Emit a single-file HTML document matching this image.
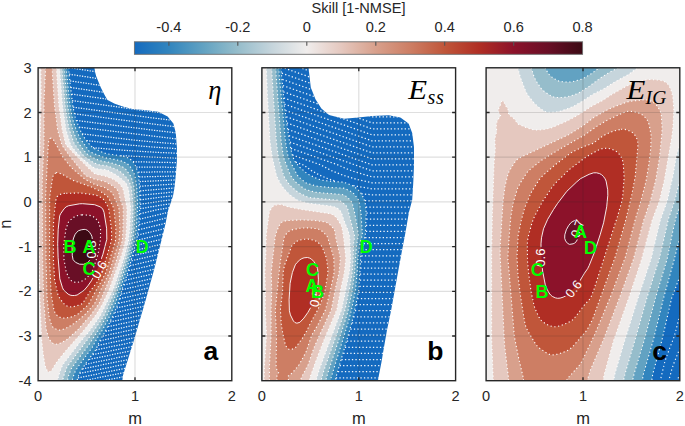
<!DOCTYPE html><html><head><meta charset="utf-8"><style>html,body{margin:0;padding:0;background:#fff;width:685px;height:426px;overflow:hidden}svg{display:block}.t{font-family:"Liberation Sans",sans-serif;font-size:14.6px;fill:#262626}.l{font-family:"Liberation Sans",sans-serif;font-size:16.5px;fill:#262626}.pl{font-family:"Liberation Sans",sans-serif;font-size:26.5px;font-weight:bold;fill:#000}.ti{font-family:"Liberation Serif",serif;font-style:italic;fill:#000}.g{font-family:"Liberation Sans",sans-serif;font-size:18px;font-weight:bold;fill:#00ff00}.cl{font-family:"Liberation Sans",sans-serif;font-size:13px;fill:#fff}</style></head><body>
<svg width="685" height="426" viewBox="0 0 685 426">
<linearGradient id="cbg" x1="0" x2="1" y1="0" y2="0"><stop offset="0.0000" stop-color="#146abf"/><stop offset="0.0385" stop-color="#2378be"/><stop offset="0.0769" stop-color="#3285be"/><stop offset="0.1154" stop-color="#4a94c0"/><stop offset="0.1538" stop-color="#62a2c2"/><stop offset="0.1923" stop-color="#7cb0c6"/><stop offset="0.2308" stop-color="#96bdcb"/><stop offset="0.2692" stop-color="#aec9d4"/><stop offset="0.3077" stop-color="#c6d5dc"/><stop offset="0.3462" stop-color="#dbe1e4"/><stop offset="0.3846" stop-color="#f0edec"/><stop offset="0.4231" stop-color="#eadad5"/><stop offset="0.4615" stop-color="#e5c8bf"/><stop offset="0.5000" stop-color="#deb4a5"/><stop offset="0.5385" stop-color="#d8a08c"/><stop offset="0.5769" stop-color="#d28f78"/><stop offset="0.6154" stop-color="#cd7e64"/><stop offset="0.6538" stop-color="#c66a4f"/><stop offset="0.6923" stop-color="#c0563a"/><stop offset="0.7308" stop-color="#b8422f"/><stop offset="0.7692" stop-color="#b02e24"/><stop offset="0.8077" stop-color="#9e2027"/><stop offset="0.8462" stop-color="#8c122a"/><stop offset="0.8846" stop-color="#7a1028"/><stop offset="0.9231" stop-color="#690f26"/><stop offset="0.9615" stop-color="#520c1d"/><stop offset="1.0000" stop-color="#3c0a14"/></linearGradient>
<rect x="134.4" y="41.8" width="448.2" height="12.5" fill="url(#cbg)" stroke="#6e6e6e" stroke-width="0.9"/>
<text x="168.9" y="32.3" class="t" text-anchor="middle">-0.4</text>
<text x="237.8" y="32.3" class="t" text-anchor="middle">-0.2</text>
<text x="306.8" y="32.3" class="t" text-anchor="middle">0</text>
<text x="375.8" y="32.3" class="t" text-anchor="middle">0.2</text>
<text x="444.7" y="32.3" class="t" text-anchor="middle">0.4</text>
<text x="513.7" y="32.3" class="t" text-anchor="middle">0.6</text>
<text x="582.6" y="32.3" class="t" text-anchor="middle">0.8</text>
<path d="M168.9 41.8v4M237.8 41.8v4M306.8 41.8v4M375.8 41.8v4M444.7 41.8v4M513.7 41.8v4" stroke="#555" stroke-width="1.1"/>
<text x="358.5" y="12.6" class="t" text-anchor="middle">Skill [1-NMSE]</text>
<clipPath id="clipa"><rect x="38.1" y="67.8" width="193.7" height="312.9"/></clipPath>
<clipPath id="maska"><path d="M94.3 55L94.3 67L95.1 72L96.2 76.3L100.8 87.6L104.6 95L107.5 100L114.8 103.8L123.6 106.7L132.4 108.9L144.1 109.9L158.2 111.7L167.6 116.4L173.4 123.5L175.8 132.9L176.9 147L176.9 161L175.8 175.1L174.6 186.9L173 196L170 205L168.2 210.1L165.4 224.2L162.5 236L154 270L145.7 300L134 340L123.1 375L121 390L25 390L25 55Z"/></clipPath>
<g clip-path="url(#clipa)"><g clip-path="url(#maska)">
<rect x="36.1" y="65.8" width="197.7" height="316.9" fill="#146abf"/>
<path d="M34.1 63.8L68.7 63.8L68.9 72.3L70.7 89.3L72.6 104.8L74.6 115L75.6 118.9L79.1 127.9L84.1 137.6L87.6 142.1L92.1 147.2L96.9 149.8L106.6 153.8L124.1 156.5L126.9 157.3L129.1 158.3L132.1 160.8L134.5 163.8L137.8 171.3L138.5 174.3L139.7 187.8L140.1 202.3L138.6 228.8L136.3 241.3L127.9 272.3L122.1 289.4L118.1 303.8L113.2 315.3L105.4 331.3L100 340.3L95.6 350.2L84.6 365.2L79.8 372.8L77.6 378.3L76.3 384.3L34.1 384.3Z" fill="#3285be"/>
<path d="M34.1 63.8L66.4 63.8L66.6 72.3L68.4 90.8L70 105.3L72.2 117.3L76.6 130.8L80.8 139.8L86.1 146.7L88.6 150.7L90.1 152L104.6 157.7L114.6 159.4L122.5 161.3L128.1 164.3L131.1 167.9L134.5 174.3L136.7 186.3L137.6 203.8L136.3 229.3L134.2 241.3L130.4 256.3L125.3 273.3L115.6 302.8L109.4 316.8L102.6 329.6L97.1 338.3L92 347.8L81.2 362.3L75.4 370.8L72.8 377.8L71.5 384.3L34.1 384.3Z" fill="#62a2c2"/>
<path d="M34.1 63.8L64.2 63.8L64.4 72.8L67.2 102.3L69.7 118.3L72.4 128.8L77.6 141.8L86.1 153.1L88.1 154.8L93.1 157.7L96.6 159.4L101.1 161L108.6 162.2L118.1 164.9L121.4 166.3L124.7 168.3L127.5 171.3L131.1 176.7L132.2 179.8L134.1 187.8L135.3 207.8L134.1 229.8L132.5 240.3L129.4 252.8L123 274.3L113.2 301.8L106.3 316.8L99.6 328.3L88.6 345.3L77.6 359.8L71.2 368.8L68.2 376.8L66.9 384.3L34.1 384.3Z" fill="#96bdcb"/>
<path d="M34.1 63.8L62 63.8L62.3 73.3L65.3 107.3L67.4 120.8L69 128.8L74.1 143.3L77.9 148.8L83.1 155L86.1 157.6L92.1 161.8L94.9 163.3L99.1 164.8L106.6 165.7L108.6 166.3L116.6 169.4L120.6 171.8L122.6 173.4L127.9 179.3L129.1 181.3L131 186.3L131.5 188.8L132.7 200.3L133.1 208.3L132.7 217.8L132.1 228.8L130.6 240.3L126.6 256.3L121.4 272.8L115.1 290.8L104.5 314.3L101.3 319.8L92.1 333.5L67.1 366.8L63.6 376.2L62.7 380.3L62.2 384.3L34.1 384.3Z" fill="#c6d5dc"/>
<path d="M34.1 63.8L59.7 63.8L59.9 72.8L62.5 105.8L66 129.8L70.4 144.3L72.6 147.8L76.6 152.8L82.1 158.3L92.1 166.6L94.6 168.1L96.6 168.8L105.6 169.7L108.5 170.8L115.6 174.5L120.6 178.2L125.3 182.3L126.6 184.3L128.5 188.8L130.7 207.3L129.8 228.3L128.4 240.8L124.6 256.1L113.1 289.7L100.1 316.1L89.1 331.6L80.3 341.8L62.7 364.8L59.9 371.8L58 378.3L57.1 384.3L34.1 384.3Z" fill="#f0edec"/>
<path d="M40.8 63.8L56.5 63.8L56.7 72.8L58.9 105.3L62.2 129.8L65.3 142.8L66.1 145L74.3 153.8L89.6 169.1L94.1 173.2L96.6 174.4L105.1 176.1L112.6 178.9L115 180.3L119.4 183.8L122.4 187.8L123.3 189.8L127 208.8L126.5 229.3L125.6 239.3L125 242.3L121.6 255.3L115.2 273.3L109.1 289.8L102.9 303.3L96.7 313.8L93.6 318.1L84.6 329.5L66.7 349.8L58.9 359.3L55.3 364.3L51.6 370.4L50.6 371.3L49.1 372L48.1 371.7L47.1 370.5L45.2 366.3L43.3 354.8L41.7 340.8L39.9 299.3L39.1 256.8L39.1 183.8L41.1 94.3Z" fill="#e5c8bf"/>
<path d="M45.4 63.8L52.1 63.8L52.4 73.3L54.5 105.8L57.7 130.3L62 145.3L70.6 157.3L85.3 175.3L87.1 176.3L94.1 179L105.1 181.6L113.1 186L116.1 188.6L117.9 190.8L118.6 192.2L120.4 199.8L122.9 206.8L123.3 208.8L123.1 228.8L122.3 240.8L118.2 254.8L112.3 272.8L99.2 303.3L91 314.8L77.6 330.1L66.7 339.8L59.6 343.5L57.1 344.2L53.1 343.6L49.6 340L48.6 337.9L46.3 329.8L45.6 324.6L43.6 299.8L42.6 258.3L42.2 184.3L44 140.8L44 100.3L45.4 72.3Z" fill="#d8a08c"/>
<path d="M50.2 138.3L51.6 138.1L53.6 139.8L54.5 142.3L56.1 144.3L63 157.3L71.1 167.3L73.1 169.2L85.1 179.3L95.1 184.6L104.6 187.5L111.6 192.2L113.5 195.3L118.2 206.3L118.9 208.3L119.1 211.2L119.9 228.8L119 240.8L109.3 272.8L100.5 290.3L95 302.8L92.5 306.3L84.8 314.8L74.6 323L71.4 325.3L65.6 328.5L62.6 329.5L59.1 330.1L57.1 329.7L54.1 328.1L52.6 326.8L51.5 324.8L49.2 317.3L47.1 298.8L46 258.8L45.6 195.8L48.1 147.1L48.8 140.3Z" fill="#cd7e64"/>
<path d="M56 172.8L57.6 172.5L59.1 172.9L64 175.3L72.6 180.2L90.9 186.8L100.1 191.1L107.3 196.3L108.8 198.3L113.8 208.3L115.9 228.3L115.5 240.3L106 272.3L101.1 281.8L95.8 290.8L89.7 302.3L88.4 304.3L86 306.8L77.6 314.4L72.1 316.8L65.1 318.2L61.6 317.9L58.6 316.8L56.6 315L55 312.8L53.9 309.8L51.1 293.8L49.5 258.3L49.7 196.8L52.7 176.8L53.6 174.9Z" fill="#c0563a"/>
<path d="M66.2 193.3L80.6 193L94.1 194.8L97.6 195.7L103.1 198.9L105.1 201.4L108.7 208.3L111.5 229.3L111.6 238.8L111.4 240.8L101.6 273.8L96.7 282.8L90.8 290.3L83.1 302.8L82 303.8L80.1 304.7L72.1 307.1L68.1 306.4L65.1 305.2L61.1 300.2L58.1 295.5L54.6 279.8L53.4 259.8L53.4 224.8L54.3 213.3L56 199.8L57 196.8L59.1 195L62.6 193.5Z" fill="#b02e24"/>
<path d="M79.6 203.8L82.6 203.7L94.6 204.7L100.1 206.8L102.6 208.7L104 212.3L106.6 228.2L106.8 239.3L102.9 254.3L100.8 260.3L96.8 270.8L91.4 280.8L87.9 285.8L84.1 290.3L77.1 295L74.6 295.5L72.1 295.5L70.1 295.1L68.1 294.1L63.6 290L62.5 287.8L59.8 278.8L58.1 257.3L57.7 243.8L58.2 229.3L59.7 215.8L60.6 213.8L64.1 208.8L66.1 206.9L68.4 205.8Z" fill="#8c122a"/>
<path d="M81.9 214.8L88.6 215.2L91.6 215.8L94.1 217.2L97.5 220.3L98.6 222.4L100.6 228.8L100.4 239.8L97.9 254.8L92.6 270.3L89.1 275.6L84.4 279.8L80.1 281.9L76.1 282.6L73.1 281.8L70.6 280.2L68.6 277.3L66.2 271.8L63.9 258.8L63.7 244.8L65.9 229.3L68.3 222.3L70.1 220.3L74.6 216.6L77.1 215.7Z" fill="#690f26"/>
<path d="M81.3 229.8L84.1 229.4L85.6 229.5L87.6 230.4L89.6 232.4L91.2 234.8L92 236.8L93 244.8L92.1 252.6L89.6 260.3L88.6 261.7L87.1 263.1L83.6 264.3L79.6 264.2L75.6 262.4L73.1 259.7L72.3 255.8L72.1 247.3L72.7 241.3L73.6 238L75.1 234.4L76.6 232.4L78.6 230.7Z" fill="#3c0a14"/>
<path d="M68.7 63.8L69 73.3L72.7 105.3L75.4 118.3L81.1 132.2L85.3 139.3L89.1 143.9L93.1 148L101.3 151.8L106.6 153.8L118.6 155.5L126.9 157.3L130.1 159L133.5 162.3L135.5 165.8L138.3 173.3L139.6 187.3L140.1 201.3L138.7 228.3L136.7 239.8L127.9 272.3L122.1 289.4L117.9 304.3L112.3 317.3L105.1 331.8L100 340.3L95.8 349.8L84.6 365.2L79.8 372.8L77.6 378.3L76.3 384.3M66.4 63.8L66.6 72.3L68.4 90.8L70 105.3L72.1 116.9L72.8 119.8L76.1 129.5L80.5 139.3L86.1 146.7L88.6 150.7L90.1 152L104.6 157.7L115.1 159.5L122.6 161.3L127.1 163.6L129.2 165.3L131.4 168.3L134.1 173.3L135.2 177.3L136.7 186.8L137.6 202.3L137.3 212.8L136.4 228.3L134.5 240.3L130.5 255.8L125.8 271.8L115.6 302.8L108.1 319.3L102.5 329.8L97.1 338.3L92.3 347.3L81.2 362.3L75.4 370.8L72.8 377.8L71.5 384.3M64.2 63.8L64.5 73.3L67.8 107.3L70 119.8L71.9 127.3L74 133.3L77.1 140.9L78.6 143.3L85.6 152.6L88.6 155.1L95.1 158.7L100.1 160.7L104.1 161.7L108.6 162.2L118.6 165.1L123.6 167.5L126.1 169.6L131.1 176.7L133.9 186.3L135.1 200.8L135.3 207.8L134.3 228.3L132.4 240.8L128.7 255.8L123.8 271.8L113.2 301.8L106.1 317.2L99.6 328.3L88.6 345.3L77.6 359.8L71.2 368.8L68.2 376.8L66.9 384.3M62 63.8L62.3 73.3L65.2 106.8L67.4 120.8L69 128.8L73.9 142.8L77.9 148.8L82.9 154.8L86.1 157.6L91.4 161.3L94.6 163.2L98.6 164.7L107.6 166L116.1 169.2L122 172.8L127.1 178.2L129.1 181.3L131.4 187.8L133.1 208.3L132.1 228.8L130.5 240.8L126.6 256.5L121.4 272.8L115.1 290.9L104.5 314.3L101.3 319.8L92.1 333.5L67.1 366.8L63.6 376.2L62.7 380.3L62.2 384.3M59.7 63.8L59.9 72.8L62.5 105.8L66 129.8L70.4 144.3L72.6 147.8L76.6 152.8L82.1 158.3L92.1 166.6L94.6 168.1L96.6 168.8L105.6 169.7L108.5 170.8L115.6 174.5L120.6 178.2L125.3 182.3L126.6 184.3L128.5 188.8L130.7 208.8L129.8 228.8L128.4 240.8L124.6 256.1L113.1 289.8L100.1 316.1L89.1 331.6L80.3 341.8L62.7 364.8L59.9 371.8L58 378.3L57.1 384.3M56.5 63.8L56.7 72.8L58.9 105.3L62.2 129.8L66 144.8L74.3 153.8L89.6 169.1L94.1 173.2L96.6 174.4L105.1 176.1L112.6 178.9L115 180.3L119.4 183.8L122.4 187.8L123.3 189.8L126.9 207.3L127 210.3L126.5 228.8L125.6 239.3L122.1 253.3L109.5 288.8L102.9 303.3L96.7 313.8L93.6 318.1L84.6 329.5L66.7 349.8L58.9 359.3L55.3 364.3L51.6 370.4L50.6 371.3L49.1 372L48.1 371.7L47.1 370.5L45.2 366.3L43.3 354.8L41.7 340.8L39.9 299.3L39.1 256.8L39.1 183.8L41.1 94.3L40.8 63.8M52.1 63.8L52.4 73.3L54.5 105.8L57.7 130.3L62 145.3L70.6 157.3L85.3 175.3L87.1 176.3L94.1 179L105.1 181.6L113.1 186L116.1 188.6L117.9 190.8L118.6 192.2L120.4 199.8L123 207.3L123.3 209.3L123 229.3L122.3 240.8L118.2 254.8L112.3 272.8L99.2 303.3L91 314.8L77.6 330.1L66.7 339.8L59.6 343.5L57.1 344.2L53.1 343.6L49.6 340L48.6 337.9L46.3 329.8L45.6 324.6L43.6 299.8L42.6 258.3L42.2 184.3L44 140.8L44 100.3L45.4 72.3L45.4 63.8M50.2 138.3L51.6 138.1L53.6 139.8L54.5 142.3L56.1 144.3L63 157.3L71.1 167.3L73.1 169.2L85.1 179.3L95.1 184.6L104.6 187.5L111.6 192.2L113.5 195.3L118.2 206.3L118.9 208.3L119.1 211.2L119.9 228.8L119 240.8L109.3 272.8L100.5 290.3L95 302.8L92.5 306.3L84.8 314.8L74.6 323L71.4 325.3L65.6 328.5L62.6 329.5L59.1 330.1L57.1 329.7L54.1 328.1L52.6 326.8L51.5 324.8L49.2 317.3L47.1 298.8L46 258.8L45.6 195.8L48.1 147.1L48.8 140.3L50.2 138.3M56 172.8L57.6 172.5L59.1 172.9L64 175.3L72.6 180.2L90.9 186.8L100.1 191.1L107.3 196.3L108.8 198.3L113.8 208.3L115.9 228.3L115.5 240.3L106 272.3L101.1 281.8L95.8 290.8L89.7 302.3L88.4 304.3L86 306.8L77.6 314.4L72.1 316.8L65.1 318.2L61.6 317.9L58.6 316.8L56.6 315L55 312.8L53.9 309.8L51.1 293.8L49.5 258.3L49.7 196.8L52.7 176.8L53.6 174.9L56 172.8M66.2 193.3L80.6 193L94.1 194.8L97.6 195.7L103.1 198.9L105.1 201.4L108.7 208.3L111.5 229.3L111.6 238.8L111.4 240.8L101.6 273.8L96.7 282.8L90.8 290.3L83.1 302.8L82 303.8L80.1 304.7L72.1 307.1L68.1 306.4L65.1 305.2L61.1 300.2L58.1 295.5L54.6 279.8L53.4 259.8L53.4 224.8L54.3 213.3L56 199.8L57 196.8L59.1 195L62.6 193.5L66.2 193.3M81.9 214.8L88.6 215.2L91.6 215.8L94.1 217.2L97.5 220.3L98.6 222.4L100.6 228.8L100.4 239.8L97.9 254.8L92.6 270.3L89.1 275.6L84.4 279.8L80.1 281.9L76.1 282.6L73.1 281.8L70.6 280.2L68.6 277.3L66.2 271.8L63.9 258.8L63.7 244.8L65.9 229.3L68.3 222.3L70.1 220.3L74.6 216.6L77.1 215.7L81.9 214.8" fill="none" stroke="#fff" stroke-width="1.1" stroke-dasharray="1.2 2.6" opacity="1"/>
<path d="M207.8 63.8L235.6 68.2M167.2 63.8L235.6 74.2M126.6 63.8L177.6 71.8L235.6 80.3M85.9 63.8L160.1 75.4L235.6 86.3M69.1 67.6L150.6 80.3L235.6 92.4M69.1 74.2L150.6 86.6L235.6 98.4M70.1 80.9L151.1 92.9L235.6 104.4M70.6 87.5L151.1 99.1L235.6 110.3M71.6 94.1L151.6 105.4L235.6 116.3M72.1 100.6L152.1 111.7L235.6 122.2M73.1 107.2L152.6 117.9L235.6 128.1M74.6 113.8L153.6 124.1L235.6 134M76.6 120.5L154.2 130.3L235.6 139.8M79.1 127.1L183.5 139.8L235.6 143.9M82.1 133.8L131.7 139.8L153.6 142L192.1 145.2L235.6 148M86.6 140.6L117.1 144L152.1 147L191.1 149.6L235.6 152M93 147.7L122.6 150.2L156.1 152.3L235.6 156M120.5 155.7L173.1 158L235.6 159.9M133 161.7L235.6 163.9M136.3 167L235.6 167.8M138.4 172.1L235.6 171.4M139.1 176.9L235.6 174.7M139.6 181.6L183.1 179.6L235.6 177.9M139.6 186.3L183.1 183.5L235.6 181.1M140.1 190.9L183.6 187.2L235.6 184.3M140.1 195.4L183.1 191L235.6 187.4M140.1 199.9L161.1 197.1L183.6 194.7L235.6 190.5M140.1 204.3L160.6 201.2L183.1 198.4L208.1 195.8L235.6 193.5M140.1 208.7L160.6 205.2L183.1 202L208.1 199.1L235.6 196.5M140.1 213.8L156.8 209.8L176.6 206.6L204.6 202.8L235.6 199.4M139.6 219.2L178.8 209.8L205.6 205.9L235.6 202.3M139.1 224.6L197.9 210.3L213.1 208L235.6 205.2M138.6 229.8L219.2 210.3L235.6 208M137.8 235.1L235.6 211.4M136.6 240.4L235.6 216.6M135.6 245.5L235.6 221.6M134.1 250.7L235.6 226.6M132.6 255.8L235.6 231.5M131.6 260.8L235.6 236.3M130.1 265.7L235.6 241.1M128.6 270.7L235.6 245.7M127.1 275.5L235.6 250.4M125.6 280.2L235.6 254.9M123.9 285L235.6 259.4M122.2 289.7L235.6 263.8M121.1 294.2L235.6 268.3M119.6 298.8L235.6 272.7M118.6 303.3L235.6 277.1M116.6 308L235.6 281.5M114.6 312.7L235.6 285.8M112.6 317.3L235.6 290.2M110.1 322L235.6 294.5M108.1 326.7L235.6 298.8M105.6 331.4L235.6 303.1M102.8 336.1L235.6 307.4M100.1 340.8L235.6 311.7M98.1 345.4L167.1 330.8L235.6 315.9M96 349.9L166.1 335.2L235.6 320.1M92.7 354.7L164.6 339.7L235.6 324.4M89.1 359.5L162.6 344.2L235.6 328.6M85.6 364.3L161.1 348.7L235.6 332.8M82.5 368.9L159.6 353.1L235.6 337M79.6 373.5L158.6 357.4L235.6 341.1M78 377.9L157.1 361.8L235.6 345.3M76.8 382.1L157.4 365.8L235.6 349.4M85.9 384.3L162.1 368.9L235.6 353.5M105.9 384.3L235.6 357.7M125.9 384.3L235.6 361.8M145.9 384.3L235.6 365.9M165.9 384.3L235.6 370M185.9 384.3L235.6 374.2M205.9 384.3L235.6 378.3M225.9 384.3L235.6 382.4" fill="none" stroke="#fff" stroke-width="1.25" stroke-dasharray="1.25 1.35" opacity="0.95"/>
<mask id="lma" maskUnits="userSpaceOnUse" x="0" y="0" width="685" height="426"><rect x="0" y="0" width="685" height="426" fill="#fff"/><rect x="-10.5" y="-5" width="21" height="10" fill="#000" transform="translate(91.3 249.5) rotate(-90)"/><rect x="-10.5" y="-5" width="21" height="10" fill="#000" transform="translate(99 269.5) rotate(-60)"/></mask>
<path d="M79.6 203.8L82.6 203.7L94.6 204.7L100.1 206.8L102.6 208.7L104 212.3L106.6 228.2L106.8 239.3L102.9 254.3L100.8 260.3L96.8 270.8L91.4 280.8L87.9 285.8L84.1 290.3L77.1 295L74.6 295.5L72.1 295.5L70.1 295.1L68.1 294.1L63.6 290L62.5 287.8L59.8 278.8L58.1 257.3L57.7 243.8L58.2 229.3L59.7 215.8L60.6 213.8L64.1 208.8L66.1 206.9L68.4 205.8L79.6 203.8M81.3 229.8L84.1 229.4L85.6 229.5L87.6 230.4L89.6 232.4L91.2 234.8L92 236.8L93 244.8L92.1 252.6L89.6 260.3L88.6 261.7L87.1 263.1L83.6 264.3L79.6 264.2L75.6 262.4L73.1 259.7L72.3 255.8L72.1 247.3L72.7 241.3L73.6 238L75.1 234.4L76.6 232.4L78.6 230.7L81.3 229.8" fill="none" stroke="#fff" stroke-width="0.9" mask="url(#lma)"/>
<g class="cl"><text transform="translate(91.3 249.5) rotate(-90)" text-anchor="middle" dy="4.6">0.8</text><text transform="translate(99 269.5) rotate(-60)" text-anchor="middle" dy="4.6">0.6</text></g>
</g></g>
<clipPath id="clipb"><rect x="261.9" y="67.8" width="193.7" height="312.9"/></clipPath>
<clipPath id="maskb"><path d="M308.5 55L308.5 67.5L310.8 87.5L315.5 99.2L321.4 108.6L328.4 114.5L330 115.3L344.1 118.8L358.2 117.6L372.3 116L388.7 115.3L400.4 117.6L408.6 123.5L412.2 132.9L414 146.9L414 165.7L413.3 182.2L412.2 200L409 212L405 235L401.8 251.8L397.5 275L394.8 290L391.2 310L387 330L383.5 350L381.5 362L378.2 379L377.5 390L250 390L250 55Z"/></clipPath>
<g clip-path="url(#clipb)"><g clip-path="url(#maskb)">
<rect x="259.9" y="65.8" width="197.7" height="316.9" fill="#146abf"/>
<path d="M257.9 63.8L281.2 63.8L281.4 73.2L284.3 104.3L289 138.8L292.4 155.5L294.3 160.3L295.9 162.9L299.9 167.5L306.9 173.4L317.3 178.8L322.9 180.3L331.9 181.4L343.9 182.2L353.4 186L357.9 189.7L360.4 192.3L363.8 198.3L365.4 203.8L366.2 212.3L365.3 235.3L361.9 249.8L360.9 255.8L358.7 290.8L354.8 309.8L351.8 322.8L336 377.3L335 384.3L257.9 384.3Z" fill="#3285be"/>
<path d="M257.9 63.8L278.8 63.8L279.1 73.8L285 138.3L287.6 154.8L289.1 159.3L294.7 170.3L297.8 175.8L301.9 179.7L305.9 182.9L314.9 185.8L331.4 187.6L342.9 188.1L345.4 188.7L351.4 191.8L353.9 193.7L357.9 198.8L359.3 202.3L361 212.8L362.4 234.8L360 243.3L358.5 251.8L357 273.8L355.5 289.8L351.5 309.8L348.8 320.3L331.5 376.3L330.8 379.3L330.2 384.3L257.9 384.3Z" fill="#62a2c2"/>
<path d="M257.9 63.8L275.7 63.8L276 73.8L281.2 141.8L283.5 157.3L289.2 172.3L291 176.3L296.4 182.7L303.4 188.2L306.4 189.7L315.9 192.3L341.4 194.4L344.5 195.3L349 198.8L351.4 201.4L352.4 203.8L354.6 212.8L357 225.3L358.5 235.8L356.6 244.3L354.6 272.8L352.6 288.8L347.7 312.3L344.5 322.8L328.2 371.8L326.3 378.3L325.4 384.3L257.9 384.3Z" fill="#96bdcb"/>
<path d="M257.9 63.8L271.7 63.8L271.9 73.8L276.3 141.3L278.3 157.3L282.9 173.8L284.1 176.8L288.9 184.1L291.5 186.8L298 192.3L306.4 196.6L308.4 197.4L311.4 197.8L337.9 200.2L340.7 201.3L344.8 204.3L346.6 206.3L347.9 209.5L354.3 234.8L354.5 237.3L353.5 243.8L353.2 258.8L352.1 272.8L349.5 288.3L345.2 309.3L341.4 321.1L324.1 369.8L321.6 378.3L320.6 384.3L257.9 384.3Z" fill="#c6d5dc"/>
<path d="M257.9 63.8L266.2 63.8L267.3 92.8L270 141.3L272.2 156.8L275.7 172.3L277.1 177.3L279.6 182.3L282.9 187.3L288.9 194L293.2 197.3L297.9 200.4L308.4 203.2L332.3 206.3L335.8 207.3L337.9 208.5L340.2 210.8L341.5 212.8L343.9 220.3L347.9 230L349.6 235.8L350.6 257.8L349.5 271.3L341.9 308.8L319.9 367.8L316.8 377.8L315.6 384.3L257.9 384.3Z" fill="#f0edec"/>
<path d="M276.3 204.8L281.4 204.6L288.4 206.9L301.4 209.5L331.4 214L334.4 215.7L336.9 218.2L341.2 225.3L342.2 228.8L343.6 237.8L345.8 258.8L344.4 272.3L340.5 290.3L337.2 308.3L336.3 311.3L325.5 336.3L315.4 362.2L310.1 377.3L308.7 384.3L264.1 384.3L264.3 368.3L266.5 335.3L265.3 310.3L265.4 289.8L264.9 272.3L265.7 257.8L266.2 235.3L269.4 211.8L270.9 209L272.9 206.5L274.4 205.3Z" fill="#e5c8bf"/>
<path d="M291.3 220.3L301.4 219.9L309.4 220.2L315.4 220.5L322.4 221.6L325.9 222.2L327.9 223L331.9 226.7L333.9 229L334.8 230.8L335.6 236.8L340.1 256.8L340.3 259.3L339.2 271.8L335.2 289.8L331.3 309.8L319.7 334.8L313.9 348L308.1 364.8L301.3 377.8L299.7 384.3L269.4 384.3L269.5 364.8L271.1 335.3L271.1 309.3L271.7 289.8L271.2 272.3L275 237.8L275.6 234.8L277.4 229.6L279.4 225.2L280.9 223L281.9 222.1L283.9 221.3Z" fill="#d8a08c"/>
<path d="M307.4 227.8L311.4 227.9L319.4 229.3L322.9 231.8L327.1 236.3L328.9 241.2L333.8 257.8L334.2 270.3L333.9 273.8L330.3 290.8L325.7 309.3L317.9 324.8L311.7 335.3L305.4 353.3L298.9 365L291.9 373.4L288.4 375.7L288.6 378.8L287.4 384.3L276.9 384.3L276.9 376.3L277.4 374.7L278.6 372.8L276.7 369.3L276.1 365.8L276.5 335.8L275.3 309.8L280 263.8L283.8 238.8L284.4 236.6L285.4 234.9L288.4 231.8L290.5 230.3L299.4 228.3Z" fill="#cd7e64"/>
<path d="M304 239.3L308.4 239.1L314.9 240.5L317.9 242.2L321.3 245.8L322.9 248.8L326.6 258.3L327.9 269.8L327.9 273.3L325 290.8L321.9 300L317.8 309.8L311.1 321.8L306.9 330.6L302.9 337.6L295.8 347.3L293.4 348.8L289.9 349.7L288.9 349.3L286.9 347.5L285.4 345L282.9 334L281.3 324.3L280.4 309.8L282.6 290.3L283.2 271.8L284.6 264.8L287.5 257.8L291.5 246.3L293.9 243.6L296.9 241.2L299.2 240.3Z" fill="#c0563a"/>
<path d="M304.1 257.8L307.4 257.5L309.4 258L311.4 259L313.9 261.6L316.4 265.9L317.4 268.3L317.9 271.3L318.4 279.3L318 284.8L316.7 292.8L313.4 302.2L311.4 306.3L307.9 312.4L303.9 318.1L299.9 322.3L296.9 323.2L294.9 322.5L293.4 321L290.4 314.9L289.4 310.8L289.1 299.8L290.1 283.3L292.4 272.5L295.3 264.8L296.9 262.7L299.9 259.8L301.9 258.6Z" fill="#b02e24"/>
<path d="M281.2 63.8L281.4 73.2L284.2 103.8L287.4 127.6L289.2 139.8L291.4 151.5L292.8 156.8L294.9 161.4L299.4 167L306.4 173L309.2 174.8L317.3 178.8L322.9 180.3L331.9 181.4L343.9 182.2L353.4 186L357.9 189.7L360.4 192.3L363.8 198.3L365.6 204.8L366.2 212.8L365.3 235.3L361.9 249.8L360.9 255.8L358.7 290.8L354.8 309.8L351.8 322.8L336 377.3L335 384.3M278.8 63.8L279.1 74.3L285.5 141.8L288.2 157.3L296.4 173.5L297.9 175.9L300.3 178.3L305.4 182.6L307.9 183.7L317.4 186.3L331.4 187.6L343.4 188.1L345.9 189L350.9 191.5L354 193.8L358.2 199.3L359.1 201.8L360.4 208.8L361.1 214.3L362.4 234.8L360 243.3L358.5 251.8L357 273.8L355.5 290.3L351.4 310.3L348.7 320.8L331.5 376.3L330.8 379.3L330.2 384.3M275.7 63.8L276 73.8L281.1 141.3L283.5 157.3L290.4 175.3L292.1 177.8L295.9 182.2L302.9 187.8L305.9 189.6L315.4 192.3L341.9 194.5L343.9 195L345.9 196.2L350.5 200.3L352.1 202.8L354.5 212.3L357.4 227.5L358.5 235.8L356.6 244.3L354.6 272.8L352.2 290.8L347.7 312.3L344.5 322.8L328.2 371.8L326.3 378.3L325.4 384.3M271.7 63.8L271.9 73.3L276.3 140.8L278.3 157.3L283.9 176.3L288.9 184.1L291.4 186.8L298 192.3L306.4 196.6L308.4 197.4L311.4 197.8L337.9 200.2L340.7 201.3L344.8 204.3L346.6 206.3L347.9 209.5L354.4 235.3L354.4 238.3L353.5 243.8L353.2 258.8L352.1 272.8L349.5 288.3L345.2 309.3L341.4 321.1L324.1 369.8L321.6 378.3L320.6 384.3M266.2 63.8L267.3 92.3L269.9 140.3L272.2 156.8L276.1 174.3L277.6 178.3L282.1 186.3L285.5 190.3L289.9 194.9L297.6 200.3L308.4 203.2L332.3 206.3L335.8 207.3L337.9 208.5L340.2 210.8L341.5 212.8L343.9 220.3L348 230.3L349.7 236.3L350.6 257.8L349.5 271.3L341.9 308.8L319.9 367.8L316.8 377.8L315.6 384.3M264.1 384.3L264.3 368.3L266.5 335.3L265.3 310.3L265.4 289.8L264.9 272.3L265.7 257.8L266.3 234.3L269.1 213.3L269.9 210.7L272.4 207L274.3 205.3L279.9 204.5L282.4 204.8L288.4 206.9L301.4 209.5L328.9 213.4L332.4 214.4L334.5 215.8L336.6 217.8L340.9 224.8L341.9 227.3L343.2 234.8L345.8 256.3L345.8 259.3L344.4 272.3L340.5 290.3L337.1 308.8L326.1 334.8L318.4 354.2L310.3 376.8L308.7 384.3M269.4 384.3L269.5 364.8L271.1 335.3L271.1 309.3L271.7 289.8L271.2 272.3L275.2 236.3L276.9 231L278.9 226.1L280.4 223.6L281.9 222.1L284.4 221.1L288.9 220.5L301.9 219.9L314.4 220.4L322.9 221.6L327.4 222.7L329.9 224.6L333.8 228.8L334.8 230.8L335.6 236.8L339.9 255.8L340.3 258.8L339.1 272.3L335.2 289.8L331.3 309.8L319.7 334.8L313.9 348L308.1 364.8L301.3 377.8L299.7 384.3M276.9 384.3L276.9 376.3L277.4 374.7L278.6 372.8L276.7 369.3L276.1 365.8L276.5 335.8L275.3 309.8L280 263.8L283.9 238.3L284.5 236.3L285.9 234.3L288.9 231.3L290.9 230.1L299.9 228.2L308.9 227.8L316.9 228.7L319.9 229.6L323.4 232.2L327.1 236.3L328.9 241.2L333.8 257.8L334.2 272.3L330.3 290.8L325.4 310.1L317.9 324.8L311.7 335.3L306.1 351.8L300.4 362.5L298.9 365L292.4 372.9L288.4 375.8L288.6 378.8L287.4 384.3M304 239.3L308.4 239.1L314.9 240.5L317.9 242.2L321.3 245.8L322.9 248.8L326.6 258.3L327.9 269.8L327.9 273.3L325 290.8L321.9 300L317.8 309.8L311.1 321.8L306.9 330.6L302.9 337.6L295.8 347.3L293.4 348.8L289.9 349.7L288.9 349.3L286.9 347.5L285.4 345L282.9 334L281.3 324.3L280.4 309.8L282.6 290.3L283.2 271.8L284.6 264.8L287.5 257.8L291.5 246.3L293.9 243.6L296.9 241.2L299.2 240.3L304 239.3" fill="none" stroke="#fff" stroke-width="1.1" stroke-dasharray="1.2 2.6" opacity="1"/>
<path d="M357.7 63.8L372.4 68.8L459.4 68.8M340.6 63.8L371.9 74.8L459.4 74.8M323.4 63.8L371.9 80.8L459.4 80.8M306.3 63.8L371.9 86.8L459.4 86.8M289.1 63.8L371.9 92.8L459.4 92.8M281.4 67.1L371.9 98.8L459.4 98.8M281.8 73.2L371.9 104.8L459.4 104.8M282.4 79.4L371.9 110.8L459.4 110.8M282.9 85.6L371.9 116.8L459.4 116.8M283.4 91.8L371.9 122.8L459.4 122.8M283.9 98L371.9 128.8L459.4 128.8M284.4 104.1L371.9 134.8L459.4 134.8M285.4 110.5L371.9 140.8L459.4 140.8M286.4 116.8L371.9 146.8L459.4 146.8M286.9 123L371.9 152.8L459.4 152.8M287.9 129.4L371.9 158.8L459.4 158.8M288.9 135.7L371.9 164.8L459.4 164.8M289.9 142.1L371.9 170.8L459.4 170.8M290.9 148.4L337.7 164.8L345.9 168.5L353.9 171.5L371.9 176.8L459.4 176.8M292.4 155L320.5 164.8L331.4 170.6L342.9 175.2L356.4 179.3L371.9 182.8L459.4 182.8M295.7 162.1L304.2 165.3L311.4 170.6L319.9 175.3L327.4 178.5L335.7 181.3M353.3 185.7L371.9 188.8L459.4 188.8M361.4 193.8L372.4 194.9L459.4 194.9M364.9 200.7L372.4 200.9L459.4 200.9M365.9 207L459.4 207M366.4 213.1L459.4 213.1M366.4 219.2L459.4 219.2M365.9 225.3L459.4 225.3M365.9 231.4L459.4 231.4M365.2 237.5L459.4 237.5M363.6 243.6L459.4 243.6M362 249.7L459.4 249.7M361.4 255.8L459.4 255.8M360.9 261.9L459.4 261.9M360.4 268L459.4 268M359.9 274.1L459.4 274.1M359.9 280.2L459.4 280.2M359.4 286.3L459.4 286.3M358.4 292.4L459.4 292.4M357.4 298.5L459.4 298.5M356.1 304.6L459.4 304.6M354.9 310.7L459.4 310.7M353.4 316.8L459.4 316.8M351.9 322.9L459.4 322.9M350.4 329L459.4 329M348.4 335.1L459.4 335.1M346.9 341.2L459.4 341.2M344.9 347.3L459.4 347.3M343.3 353.4L459.4 353.4M341.4 359.5L459.4 359.5M339.6 365.6L459.4 365.6M337.9 371.7L459.4 371.7M335.9 377.8L459.4 377.8M335.4 383.9L459.4 383.9" fill="none" stroke="#fff" stroke-width="1.25" stroke-dasharray="1.3 2.2" opacity="0.95"/>
<mask id="lmb" maskUnits="userSpaceOnUse" x="0" y="0" width="685" height="426"><rect x="0" y="0" width="685" height="426" fill="#fff"/><rect x="-10.5" y="-5" width="21" height="10" fill="#000" transform="translate(315.5 298) rotate(-78)"/></mask>
<path d="M304.1 257.8L307.4 257.5L309.4 258L311.4 259L313.9 261.6L316.4 265.9L317.4 268.3L317.9 271.3L318.4 279.3L318 284.8L316.7 292.8L313.4 302.2L311.4 306.3L307.9 312.4L303.9 318.1L299.9 322.3L296.9 323.2L294.9 322.5L293.4 321L290.4 314.9L289.4 310.8L289.1 299.8L290.1 283.3L292.4 272.5L295.3 264.8L296.9 262.7L299.9 259.8L301.9 258.6L304.1 257.8" fill="none" stroke="#fff" stroke-width="0.9" mask="url(#lmb)"/>
<g class="cl"><text transform="translate(315.5 298) rotate(-78)" text-anchor="middle" dy="4.6">0.5</text></g>
</g></g>
<clipPath id="clipc"><rect x="486.1" y="67.8" width="193.7" height="312.9"/></clipPath>
<clipPath id="maskc"><path d="M470 50L700 50L700 395L470 395Z"/></clipPath>
<g clip-path="url(#clipc)"><g clip-path="url(#maskc)">
<rect x="484.1" y="65.8" width="197.7" height="316.9" fill="#146abf"/>
<path d="M482.1 63.8L683.6 63.8L683.6 269.6L682.1 271.2L680.6 274.4L671.6 298.4L661.9 340.3L652.7 374.3L651.2 384.3L482.1 384.3Z" fill="#3285be"/>
<path d="M482.1 63.8L683.6 63.8L683.6 231.2L682.6 231.9L681.1 234.4L678.6 242.1L673.9 260.8L663.9 296.8L653.4 339.8L643.2 374.8L641.8 384.3L482.1 384.3Z" fill="#62a2c2"/>
<path d="M482.1 63.8L544.5 63.8L544.8 66.8L546 69.8L549 74.3L551.6 76.9L556.1 79.8L559.1 81.1L562.6 81.8L568.6 82.1L572.1 81.8L579.1 80L582.1 79L585.1 77.5L592 73.3L597.3 69.3L600 66.3L600.9 63.8L683.6 63.8L683.6 203.8L681.6 205.1L679.6 207.8L678.1 211L676.1 217.1L672.7 231.8L667.2 258.8L655.7 297.3L644.2 340.3L634.1 373.8L633 378.8L632.3 384.3L482.1 384.3Z" fill="#96bdcb"/>
<path d="M482.1 63.8L531 63.8L531.6 69.3L534.3 77.3L536.6 81.7L541.4 88.8L544.6 91.8L551.6 96.3L554.6 97.3L559.1 97.6L563.6 97.5L567.1 96.9L575.1 94.5L579.1 92.8L588.6 86.7L601.5 77.3L609.1 72.6L618.1 67.9L620.2 65.8L620.9 63.8L683.6 63.8L683.6 178.9L682.6 179.3L681.1 180.7L679.6 182.9L678.6 185.2L674.7 200.8L668.5 218.8L659.6 257.8L647.1 297.3L635.2 339.3L625.3 372.8L624 378.3L623.2 384.3L482.1 384.3Z" fill="#c6d5dc"/>
<path d="M482.1 63.8L517.7 63.8L518.2 69.3L520.2 76.8L525.3 90.3L527.6 94.8L534.1 103L538.6 107.3L544.6 111.4L547.1 112.2L549.6 112.4L556.1 112L560.1 111.3L569.6 108L574.6 105.7L582.6 101.1L593.1 94.2L603.6 88.9L614.6 82.1L628.8 74.3L637 68.3L638.6 66.2L639.3 63.8L683.6 63.8L683.6 140.7L682.1 141.8L680.1 144.7L677.6 151.6L675.7 159.8L673 175.8L667.1 201.2L660.3 220.3L651.1 258.8L638.3 297.3L623.4 344.8L614.8 374.3L613.8 379.3L613.3 384.3L482.1 384.3Z" fill="#f0edec"/>
<path d="M645.6 79.8L652.6 79.6L659.1 80.1L662.1 80.6L664.6 81.7L667 83.3L668.6 85.1L669.9 87.3L671.6 91.8L672.7 95.8L673.8 108.3L672.8 128.8L672.1 134.8L664.2 180.8L659.6 200.6L652.3 219.8L641.2 260.8L629 297.3L613.7 340.3L604.4 373.8L603.4 378.8L602.9 384.3L493.4 384.3L491.6 338.3L491.6 255.8L492.3 217.3L494.1 162.3L495.3 148.8L494.8 139.8L495.4 135.8L496.8 131.3L496.2 126.8L496.6 122.8L497.6 120.2L500.6 115.8L498.7 112.3L498.4 110.3L498.8 108.3L500.4 105.3L501.1 101.9L502.1 101.1L503.7 101.8L505.4 105.3L507.8 108.8L508.3 110.8L508.6 114.3L513.6 118.3L515.3 120.3L517.3 123.3L518.5 124.3L526.1 127.6L533.6 129.9L538.1 130.1L545.6 129.2L551.6 127.8L566.6 121.3L578.1 115L591.1 106.5L603.1 100.2L611.3 94.8L627.1 85.8L632.4 83.8Z" fill="#e5c8bf"/>
<path d="M643.1 99.8L645.6 99.8L648.1 100.2L652.1 101.8L654.6 103.3L656.6 105.3L659.1 109.1L660.6 112.2L661.3 114.8L662.1 128.3L661.7 135.8L659.4 158.3L655.7 180.3L650.4 200.8L643.7 220.3L633.3 259.8L619.7 297.3L603.8 338.8L590.5 369.8L587.1 380.8L586.5 384.3L508.8 384.3L508.5 378.3L504.5 344.8L500.1 254.8L500.3 243.8L503.1 200.8L505.1 185.8L507.7 175.3L509.1 171.3L514.6 162.4L516.6 159.9L518.6 158.3L568.6 134.7L582.6 126.1L593.6 117.6L606.6 110.2L613.6 107L627.1 101.9L631.1 101.1Z" fill="#d8a08c"/>
<path d="M627.8 111.3L633.1 111.6L640.1 113.5L644.1 116.3L647.4 120.3L649.1 124.8L651 134.3L651.1 139.3L650.6 150.3L648.8 164.8L646.3 179.8L641.4 198.8L635.3 219.3L625.1 257.8L611.6 293.9L595 333.8L582.1 361.1L579.1 365.7L568.2 377.8L566.1 381.3L565.3 384.3L523.9 384.3L523.3 377.8L518.6 358L514.3 336.3L509.4 275.3L507.8 258.3L509.2 235.8L510.7 217.8L513.3 202.3L517.6 188.3L520.6 182.5L527.1 172.3L530.8 168.8L540.6 160.8L559.4 149.3L584.9 134.8L596.8 126.3L605.4 121.3L611 118.3L621.9 113.3Z" fill="#cd7e64"/>
<path d="M621 129.3L624.4 129.3L627.6 130L632 132.3L634.1 133.9L636.1 137L637.3 139.8L637.9 142.8L637.9 146.3L635.2 176.8L631.7 195.3L625.9 219.3L615.1 257.3L593.1 317.8L590.6 323.3L586.6 330.6L573.1 346.2L569.6 349.4L565.1 351.6L558.1 354.1L553.1 354.9L549.6 354.4L546.6 353L539.1 348L537.1 346L535.1 343.2L528.6 332.4L526 327.3L525 323.8L523.1 312.6L520.6 296.3L518 275.8L517 256.8L518.1 235.8L521.5 219.3L524.9 207.3L531 192.8L539.4 179.3L543.1 175.3L555.8 164.3L569.6 153.8L573.4 151.3L584.1 146.4L593.2 143.3L602.6 136.1L607.1 133.7L613.6 131.1Z" fill="#c0563a"/>
<path d="M605 148.3L608.1 148.4L611.1 149L614.4 150.3L616.9 151.8L619.1 154L621 156.8L622.4 159.8L623.1 162.3L624.2 177.3L622.7 196.3L621.6 202.3L617.6 216.1L593.6 290.6L590.9 297.3L589.1 299.8L584.1 305.3L575.6 316.7L572.1 320.3L567.7 322.8L560.6 325.8L555.1 326.8L551.6 326.3L547.6 324.8L543.6 322.4L541.1 320.3L539.1 317.4L536.6 312.3L534.2 306.3L531.1 291.8L528.8 274.8L527.5 260.8L527.3 243.8L527.9 237.8L532.1 222.5L534.3 216.8L542.3 201.8L552.1 187.1L556.2 182.3L569.1 169.7L584.9 157.8L590.6 154.3L599.1 149.7L601.6 148.8Z" fill="#b02e24"/>
<path d="M593.6 172.8L596.6 172.8L599.6 173.6L601.6 174.7L603.6 176.7L605.1 178.8L606.1 181.1L607.7 189.8L607.8 195.3L606.7 206.8L603.6 222.8L600.1 234.9L594.1 253.2L589.1 265.7L587.6 268.7L584.4 273.3L579.1 282.1L572.2 290.3L565.6 295.9L563.1 297.2L560.1 298.1L557.6 298.3L555.6 297.9L552.6 296.6L550.6 295L549.1 293L547.1 289.3L545.2 284.3L542.6 271L541 252.8L541 243.8L541.5 237.8L543.5 228.8L547.7 219.3L553.6 209.4L557.6 203.4L566.8 191.3L576.8 181.8L580.6 178.6L589.1 174.3Z" fill="#8c122a"/>
<path d="M574 220.8L575.6 220.6L577.1 220.8L578.6 221.9L579.6 223.1L580.8 226.3L580.8 230.8L578.3 237.8L576.1 241.8L574.6 243.1L573.1 243.8L569.6 244.4L567.6 243.4L565.6 240.9L564.7 238.3L564.8 234.8L566.3 229.8L568.5 225.8L571.1 222.5Z" fill="#690f26"/>
<path d="M683.6 367.2L682.6 368L681.6 369.7L677.5 379.8L676.1 381.3L672.7 383.3L671.7 384.3M683.6 341.7L682.6 342.5L681.1 345.2L673.6 364L672 368.8L669.4 378.3L667.5 382.3L667.2 384.3M683.6 308.6L682.1 310.1L679.6 316.1L674.3 336.3L666.6 356.3L664.7 362.3L660.6 379.3L661.1 381.8L663.3 384.3M683.6 269.6L682.1 271.2L680.6 274.4L671.6 298.4L661.9 340.3L652.7 374.3L651.2 384.3M683.6 231.2L682.6 231.9L681.1 234.4L678.6 242.1L673.9 260.8L663.9 296.8L653.4 339.8L643.2 374.8L641.8 384.3M544.5 63.8L544.8 66.8L546 69.8L549 74.3L551.6 76.9L556.1 79.8L559.1 81.1L562.6 81.8L568.6 82.1L572.1 81.8L579.1 80L582.1 79L585.1 77.5L592 73.3L597.3 69.3L600 66.3L600.9 63.8M683.6 203.8L681.6 205.1L679.6 207.8L678.1 211L676.1 217.1L672.7 231.8L667.2 258.8L655.7 297.3L644.2 340.3L634.1 373.8L633 378.8L632.3 384.3M531 63.8L531.6 69.3L534.3 77.3L536.6 81.7L541.4 88.8L544.6 91.8L551.6 96.3L554.6 97.3L559.1 97.6L563.6 97.5L567.1 96.9L575.1 94.5L579.1 92.8L588.6 86.7L601.5 77.3L609.1 72.6L618.1 67.9L620.2 65.8L620.9 63.8M683.6 178.9L682.6 179.3L681.1 180.7L679.6 182.9L678.6 185.2L674.7 200.8L668.5 218.8L659.6 257.8L647.1 297.3L635.2 339.3L625.3 372.8L624 378.3L623.2 384.3M517.7 63.8L518.2 69.3L520.2 76.8L525.3 90.3L527.6 94.8L534.1 103L538.6 107.3L544.6 111.4L547.1 112.2L549.6 112.4L556.1 112L560.1 111.3L569.6 108L574.6 105.7L582.6 101.1L593.1 94.2L603.6 88.9L614.6 82.1L628.8 74.3L637 68.3L638.6 66.2L639.3 63.8M683.6 140.7L682.1 141.8L680.1 144.7L677.6 151.6L675.7 159.8L673 175.8L667.1 201.2L660.3 220.3L651.1 258.8L638.3 297.3L623.4 344.8L614.8 374.3L613.8 379.3L613.3 384.3M493.4 384.3L491.6 338.3L491.6 255.8L492.3 217.3L494.1 162.3L495.3 148.8L494.8 139.8L495.4 135.8L496.8 131.3L496.2 126.8L496.6 122.8L497.6 120.2L500.6 115.8L498.7 112.3L498.4 110.3L498.8 108.3L500.4 105.3L501.1 101.9L502.1 101.1L503.7 101.8L505.4 105.3L507.8 108.8L508.3 110.8L508.6 114.3L513.6 118.3L515.3 120.3L517.3 123.3L518.5 124.3L526.1 127.6L533.6 129.9L538.1 130.1L545.6 129.2L551.6 127.8L566.6 121.3L578.1 115L591.1 106.5L603.1 100.2L611.3 94.8L627.1 85.8L643.4 80.3L646.1 79.7L649.6 79.5L659.6 80.1L664.1 81.4L666.6 83L668.4 84.8L669.6 86.8L671.1 90.3L672.9 96.8L673.9 109.8L672.7 130.3L671.5 139.3L664.2 180.8L659.5 200.8L652.3 219.8L641 261.3L629 297.3L613.7 340.3L604.4 373.8L603.4 378.8L602.9 384.3M508.8 384.3L508.5 378.3L504.5 344.8L500.1 254.8L500.3 243.8L503.1 200.8L505.1 185.8L507.7 175.3L509.1 171.3L514.6 162.4L516.6 159.9L518.6 158.3L568.6 134.7L582.6 126.1L593.6 117.6L607.1 109.9L614.6 106.6L627.1 101.9L631.6 101.1L644.6 99.7L647.1 100L649.6 100.7L653.1 102.3L655.1 103.7L657.1 106L659.5 109.8L660.6 112.3L661.3 114.8L662.1 128.3L661.7 135.8L659.4 158.3L655.6 180.8L650.4 200.8L643.7 220.3L633.3 259.8L619.7 297.3L603.8 338.8L590.5 369.8L587.1 380.8L586.5 384.3M523.9 384.3L523.3 377.8L518.6 358L514.3 336.3L509.4 275.3L507.8 258.3L509.2 235.8L510.7 217.8L513.3 202.3L517.6 188.3L520.6 182.5L527.1 172.3L530.8 168.8L540.6 160.8L559.4 149.3L584.6 135L597.1 126.1L607.1 120.3L623.1 112.8L626.6 111.5L629.1 111.2L632.1 111.5L637.1 112.5L640.1 113.5L642.1 114.7L645.1 117.3L647.1 119.7L648.4 122.3L649.4 125.8L651.1 135.3L650.8 148.3L648.8 164.8L645.9 181.8L640.9 200.8L635.2 219.8L625.3 257.3L610.5 296.8L594.8 334.3L582 361.3L579.1 365.7L568.2 377.8L566.1 381.3L565.3 384.3M621 129.3L624.4 129.3L627.6 130L632 132.3L634.1 133.9L636.1 137L637.3 139.8L637.9 142.8L637.9 146.3L635.2 176.8L631.7 195.3L625.9 219.3L615.1 257.3L593.1 317.8L590.6 323.3L586.6 330.6L573.1 346.2L569.6 349.4L565.1 351.6L558.1 354.1L553.1 354.9L549.6 354.4L546.6 353L539.1 348L537.1 346L535.1 343.2L528.6 332.4L526 327.3L525 323.8L523.1 312.6L520.6 296.3L518 275.8L517 256.8L518.1 235.8L521.5 219.3L524.9 207.3L531 192.8L539.4 179.3L543.1 175.3L555.8 164.3L569.6 153.8L573.4 151.3L584.1 146.4L593.2 143.3L602.6 136.1L607.1 133.7L613.6 131.1L621 129.3M605 148.3L608.1 148.4L611.1 149L614.4 150.3L616.9 151.8L619.1 154L621 156.8L622.4 159.8L623.1 162.3L624.2 177.3L622.7 196.3L621.6 202.3L617.6 216.1L593.6 290.6L590.9 297.3L589.1 299.8L584.1 305.3L575.6 316.7L572.1 320.3L567.7 322.8L560.6 325.8L555.1 326.8L551.6 326.3L547.6 324.8L543.6 322.4L541.1 320.3L539.1 317.4L536.6 312.3L534.2 306.3L531.1 291.8L528.8 274.8L527.5 260.8L527.3 243.8L527.9 237.8L532.1 222.5L534.3 216.8L542.3 201.8L552.1 187.1L556.2 182.3L569.1 169.7L584.9 157.8L590.6 154.3L599.1 149.7L601.6 148.8L605 148.3" fill="none" stroke="#fff" stroke-width="1.1" stroke-dasharray="1.2 2.6" opacity="1"/>
<mask id="lmc" maskUnits="userSpaceOnUse" x="0" y="0" width="685" height="426"><rect x="0" y="0" width="685" height="426" fill="#fff"/><rect x="-10.5" y="-5" width="21" height="10" fill="#000" transform="translate(540.6 257.6) rotate(-90)"/><rect x="-10.5" y="-5" width="21" height="10" fill="#000" transform="translate(573.5 288.8) rotate(-52)"/><rect x="-10.5" y="-5" width="21" height="10" fill="#000" transform="translate(577.5 228.5) rotate(-72)"/></mask>
<path d="M593.6 172.8L596.6 172.8L599.6 173.6L601.6 174.7L603.6 176.7L605.1 178.8L606.1 181.1L607.7 189.8L607.8 195.3L606.7 206.8L603.6 222.8L600.1 234.9L594.1 253.2L589.1 265.7L587.6 268.7L584.4 273.3L579.1 282.1L572.2 290.3L565.6 295.9L563.1 297.2L560.1 298.1L557.6 298.3L555.6 297.9L552.6 296.6L550.6 295L549.1 293L547.1 289.3L545.2 284.3L542.6 271L541 252.8L541 243.8L541.5 237.8L543.5 228.8L547.7 219.3L553.6 209.4L557.6 203.4L566.8 191.3L576.8 181.8L580.6 178.6L589.1 174.3L593.6 172.8M574 220.8L575.6 220.6L577.1 220.8L578.6 221.9L579.6 223.1L580.8 226.3L580.8 230.8L578.3 237.8L576.1 241.8L574.6 243.1L573.1 243.8L569.6 244.4L567.6 243.4L565.6 240.9L564.7 238.3L564.8 234.8L566.3 229.8L568.5 225.8L571.1 222.5L574 220.8" fill="none" stroke="#fff" stroke-width="0.9" mask="url(#lmc)"/>
<g class="cl"><text transform="translate(540.6 257.6) rotate(-90)" text-anchor="middle" dy="4.6">0.6</text><text transform="translate(573.5 288.8) rotate(-52)" text-anchor="middle" dy="4.6">0.6</text><text transform="translate(577.5 228.5) rotate(-72)" text-anchor="middle" dy="4.6">0.7</text></g>
</g></g>
<path d="M38.1 336H231.8M38.1 291.3H231.8M38.1 246.6H231.8M38.1 201.9H231.8M38.1 157.2H231.8M38.1 112.5H231.8M135 67.8V380.7" stroke="#262626" stroke-opacity="0.15" stroke-width="1.2" fill="none"/>
<path d="M38.1 336h3.5M231.8 336h-3.5M38.1 291.3h3.5M231.8 291.3h-3.5M38.1 246.6h3.5M231.8 246.6h-3.5M38.1 201.9h3.5M231.8 201.9h-3.5M38.1 157.2h3.5M231.8 157.2h-3.5M38.1 112.5h3.5M231.8 112.5h-3.5M135 380.7v-3.5M135 67.8v3.5" stroke="#262626" stroke-width="1.3" fill="none"/>
<rect x="38.1" y="67.8" width="193.7" height="312.9" fill="none" stroke="#262626" stroke-width="1.4"/>
<text x="38.1" y="401" class="t" text-anchor="middle">0</text>
<text x="135" y="401" class="t" text-anchor="middle">1</text>
<text x="231.8" y="401" class="t" text-anchor="middle">2</text>
<text x="135" y="423.5" class="l" text-anchor="middle">m</text>
<text x="31.6" y="385.7" class="t" text-anchor="end">-4</text>
<text x="31.6" y="341" class="t" text-anchor="end">-3</text>
<text x="31.6" y="296.3" class="t" text-anchor="end">-2</text>
<text x="31.6" y="251.6" class="t" text-anchor="end">-1</text>
<text x="31.6" y="206.9" class="t" text-anchor="end">0</text>
<text x="31.6" y="162.2" class="t" text-anchor="end">1</text>
<text x="31.6" y="117.5" class="t" text-anchor="end">2</text>
<text x="31.6" y="72.8" class="t" text-anchor="end">3</text>
<text transform="translate(10.8 224.2) rotate(-90)" class="l" text-anchor="middle">n</text>
<path d="M261.9 336H455.6M261.9 291.3H455.6M261.9 246.6H455.6M261.9 201.9H455.6M261.9 157.2H455.6M261.9 112.5H455.6M358.8 67.8V380.7" stroke="#262626" stroke-opacity="0.15" stroke-width="1.2" fill="none"/>
<path d="M261.9 336h3.5M455.6 336h-3.5M261.9 291.3h3.5M455.6 291.3h-3.5M261.9 246.6h3.5M455.6 246.6h-3.5M261.9 201.9h3.5M455.6 201.9h-3.5M261.9 157.2h3.5M455.6 157.2h-3.5M261.9 112.5h3.5M455.6 112.5h-3.5M358.8 380.7v-3.5M358.8 67.8v3.5" stroke="#262626" stroke-width="1.3" fill="none"/>
<rect x="261.9" y="67.8" width="193.7" height="312.9" fill="none" stroke="#262626" stroke-width="1.4"/>
<text x="261.9" y="401" class="t" text-anchor="middle">0</text>
<text x="358.8" y="401" class="t" text-anchor="middle">1</text>
<text x="455.6" y="401" class="t" text-anchor="middle">2</text>
<text x="358.8" y="423.5" class="l" text-anchor="middle">m</text>
<path d="M486.1 336H679.8M486.1 291.3H679.8M486.1 246.6H679.8M486.1 201.9H679.8M486.1 157.2H679.8M486.1 112.5H679.8M583 67.8V380.7" stroke="#262626" stroke-opacity="0.15" stroke-width="1.2" fill="none"/>
<path d="M486.1 336h3.5M679.8 336h-3.5M486.1 291.3h3.5M679.8 291.3h-3.5M486.1 246.6h3.5M679.8 246.6h-3.5M486.1 201.9h3.5M679.8 201.9h-3.5M486.1 157.2h3.5M679.8 157.2h-3.5M486.1 112.5h3.5M679.8 112.5h-3.5M583 380.7v-3.5M583 67.8v3.5" stroke="#262626" stroke-width="1.3" fill="none"/>
<rect x="486.1" y="67.8" width="193.7" height="312.9" fill="none" stroke="#262626" stroke-width="1.4"/>
<text x="486.1" y="401" class="t" text-anchor="middle">0</text>
<text x="583" y="401" class="t" text-anchor="middle">1</text>
<text x="679.8" y="401" class="t" text-anchor="middle">2</text>
<text x="583" y="423.5" class="l" text-anchor="middle">m</text>

<g class="pl"><text x="210.8" y="359.8" text-anchor="middle">a</text>
<text x="435.4" y="359.6" text-anchor="middle">b</text>
<text x="659.6" y="359.8" text-anchor="middle">c</text></g>
<g class="ti">
<text x="208.3" y="99.4" font-size="26.5">&#951;</text>
<text x="408.3" y="99.2" font-size="27.5" transform="translate(408.3 0) scale(1.12 1) translate(-408.3 0)">E</text>
<text x="427.6" y="103.6" font-size="20" letter-spacing="0.6">ss</text>
<text x="626.5" y="99.0" font-size="27.5" transform="translate(626.5 0) scale(1.12 1) translate(-626.5 0)">E</text>
<text x="645.4" y="103.6" font-size="19.5" letter-spacing="0.3">IG</text>
</g>

<g class="g">
<text x="70" y="253.2" text-anchor="middle">B</text>
<text x="89" y="253.2" text-anchor="middle">A</text>
<text x="89" y="275.0" text-anchor="middle">C</text>
<text x="142.3" y="253.2" text-anchor="middle">D</text>
<text x="312.6" y="275.9" text-anchor="middle">C</text>
<text x="312.1" y="291.7" text-anchor="middle">A</text>
<text x="317.5" y="297.9" text-anchor="middle">B</text>
<text x="366.3" y="253.0" text-anchor="middle">D</text>
<text x="580.4" y="237.8" text-anchor="middle">A</text>
<text x="590.4" y="253.6" text-anchor="middle">D</text>
<text x="537.2" y="275.8" text-anchor="middle">C</text>
<text x="541.9" y="297.8" text-anchor="middle">B</text>
</g>

</svg></body></html>
